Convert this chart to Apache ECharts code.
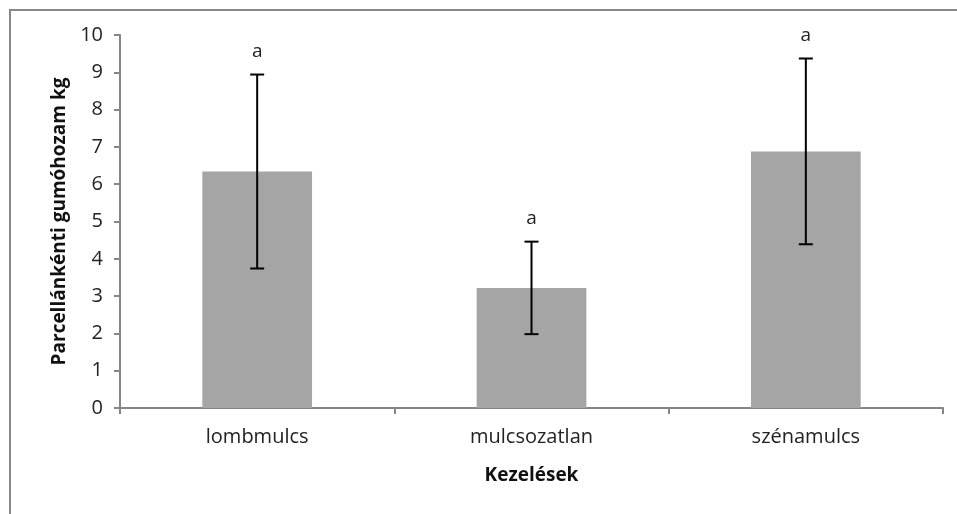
<!DOCTYPE html>
<html><head><meta charset="utf-8">
<script src="https://cdn.jsdelivr.net/npm/echarts@6/dist/echarts.min.js"></script>
<style>html,body{margin:0;padding:0;background:#fff}#c{width:957px;height:514px}</style>
</head><body><div id="c"></div>
<script>
const categories = ['lombmulcs', 'mulcsozatlan', 'szénamulcs'];
const means = [6.34, 3.22, 6.88];
const errors = [2.6, 1.24, 2.49];
const letters = ['a', 'a', 'a'];
const yTicks = [0, 10, 1];

const chart = echarts.init(document.getElementById('c'));
const FONT = '"Open Sans", Lato, sans-serif';
const errData = categories.map((c, i) => [i, means[i] - errors[i], means[i] + errors[i], letters[i]]);

chart.setOption({
  animation: false,
  graphic: [{
    type: 'rect', z: -1,
    shape: { x: 10, y: 10, width: 1000, height: 1000 },
    style: { fill: 'none', stroke: '#888', lineWidth: 2 }
  }],
  grid: { left: 120, right: 14, top: 35, bottom: 106 },
  xAxis: {
    type: 'category', data: categories,
    axisLine: { lineStyle: { color: '#868686', width: 2 } },
    axisTick: { show: true, length: 6, lineStyle: { color: '#868686', width: 2 } },
    axisLabel: { color: '#222', fontSize: 20, fontFamily: FONT, margin: 19 },
    name: 'Kezelések', nameLocation: 'middle', nameGap: 58,
    nameTextStyle: { fontSize: 19, fontWeight: 'bold', fontFamily: FONT, color: '#111' }
  },
  yAxis: {
    type: 'value', min: yTicks[0], max: yTicks[1], interval: yTicks[2],
    splitLine: { show: false },
    axisLine: { show: true, lineStyle: { color: '#868686', width: 2 } },
    axisTick: { show: true, length: 6, lineStyle: { color: '#868686', width: 2 } },
    axisLabel: { color: '#222', fontSize: 20, fontFamily: FONT, margin: 17 },
    name: 'Parcellánkénti gumóhozam kg', nameLocation: 'middle', nameGap: 51,
    nameTextStyle: { fontSize: 19, fontWeight: 'bold', fontFamily: FONT, color: '#111' }
  },
  series: [{
    type: 'bar', data: means, barCategoryGap: '60%',
    itemStyle: { color: '#a5a5a5' }
  }, {
    type: 'custom', data: errData, z: 10,
    renderItem: function (params, api) {
      const x = api.value(0);
      const lo = api.coord([x, api.value(1)]);
      const hi = api.coord([x, api.value(2)]);
      const cap = 7;
      const st = { stroke: '#000', lineWidth: 2 };
      return {
        type: 'group', children: [
          { type: 'line', shape: { x1: hi[0], y1: hi[1], x2: lo[0], y2: lo[1] }, style: st },
          { type: 'line', shape: { x1: hi[0] - cap, y1: hi[1], x2: hi[0] + cap, y2: hi[1] }, style: st },
          { type: 'line', shape: { x1: lo[0] - cap, y1: lo[1], x2: lo[0] + cap, y2: lo[1] }, style: st },
          { type: 'text', style: { x: hi[0], y: hi[1] - 23, text: api.value(3), fill: '#222',
            font: '19px ' + FONT, textAlign: 'center', textVerticalAlign: 'middle' } }
        ]
      };
    }
  }]
});
</script></body></html>
